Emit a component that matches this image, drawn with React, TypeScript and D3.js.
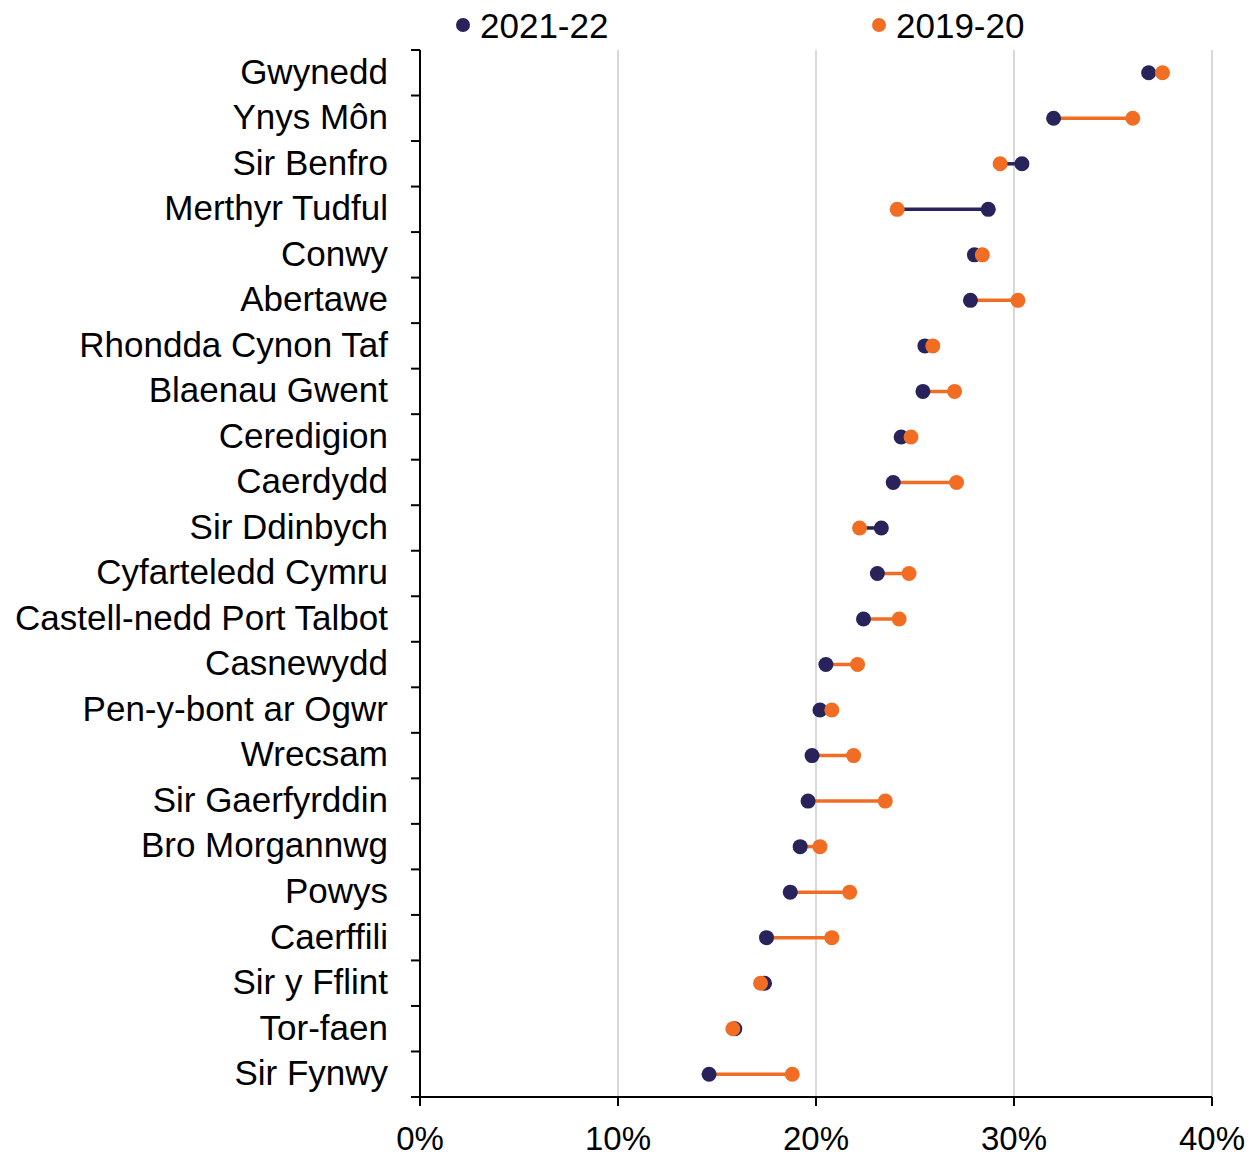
import React, { useEffect } from 'react';
import * as d3 from 'd3';

const categories = [
  'Gwynedd', 'Ynys Môn', 'Sir Benfro', 'Merthyr Tudful', 'Conwy', 'Abertawe',
  'Rhondda Cynon Taf', 'Blaenau Gwent', 'Ceredigion', 'Caerdydd', 'Sir Ddinbych',
  'Cyfarteledd Cymru', 'Castell-nedd Port Talbot', 'Casnewydd', 'Pen-y-bont ar Ogwr',
  'Wrecsam', 'Sir Gaerfyrddin', 'Bro Morgannwg', 'Powys', 'Caerffili',
  'Sir y Fflint', 'Tor-faen', 'Sir Fynwy',
];

// percentages
const values2122 = [
  36.8, 32.0, 30.4, 28.7, 28.0, 27.8, 25.5, 25.4, 24.3, 23.9, 23.3, 23.1,
  22.4, 20.5, 20.2, 19.8, 19.6, 19.2, 18.7, 17.5, 17.4, 15.9, 14.6,
];
const values1920 = [
  37.5, 36.0, 29.3, 24.1, 28.4, 30.2, 25.9, 27.0, 24.8, 27.1, 22.2, 24.7,
  24.2, 22.1, 20.8, 21.9, 23.5, 20.2, 21.7, 20.8, 17.2, 15.8, 18.8,
];
const xTicks = [0, 10, 20, 30, 40];

const NAVY = '#29235c';
const ORANGE = '#f26d24';
const FONT = 'Liberation Sans, Arial, sans-serif';

const W = 1258;
const H = 1156;

export default function App() {
  useEffect(() => {
    document.body.style.margin = '0';
  }, []);

  const x = d3.scaleLinear().domain([0, 40]).range([420, 1212]);
  const y = d3.scaleBand<string>().domain(categories).range([50, 1097]).padding(0);
  const bw = y.bandwidth();
  const [top, bottom] = y.range();

  const rows = categories.map((c, i) => ({ c, a: values2122[i], b: values1920[i] }));

  return (
    <svg width={W} height={H} style={{ display: 'block', fontFamily: FONT }}>
      {/* gridlines */}
      {xTicks.slice(1).map((t) => (
        <line key={t} x1={x(t)} x2={x(t)} y1={top} y2={bottom} stroke="#d9d9d9" strokeWidth={2} />
      ))}

      {/* y axis */}
      <line x1={x(0)} x2={x(0)} y1={top} y2={bottom} stroke="#000" strokeWidth={2} />
      {d3.range(categories.length + 1).map((i) => (
        <line key={i} x1={x(0) - 9} x2={x(0)} y1={top + i * bw} y2={top + i * bw} stroke="#000" strokeWidth={2} />
      ))}
      {categories.map((c) => (
        <text key={c} x={388} y={(y(c) as number) + bw / 2} dy="0.31em" textAnchor="end" fontSize={35} fill="#000">
          {c}
        </text>
      ))}

      {/* x axis */}
      <line x1={x(0)} x2={x(40)} y1={bottom} y2={bottom} stroke="#000" strokeWidth={2} />
      {xTicks.map((t) => (
        <g key={t}>
          <line x1={x(t)} x2={x(t)} y1={bottom} y2={bottom + 9} stroke="#000" strokeWidth={2} />
          <text x={x(t)} y={bottom + 53} textAnchor="middle" fontSize={33} fill="#000">{t}%</text>
        </g>
      ))}

      {/* connectors */}
      {rows.map((r) => {
        const cy = (y(r.c) as number) + bw / 2;
        return (
          <line key={r.c} x1={x(r.a)} x2={x(r.b)} y1={cy} y2={cy}
            stroke={r.b >= r.a ? ORANGE : NAVY} strokeWidth={3.5} />
        );
      })}
      {rows.map((r) => (
        <circle key={r.c} cx={x(r.a)} cy={(y(r.c) as number) + bw / 2} r={7.5} fill={NAVY} />
      ))}
      {rows.map((r) => (
        <circle key={r.c} cx={x(r.b)} cy={(y(r.c) as number) + bw / 2} r={7.5} fill={ORANGE} />
      ))}

      {/* legend */}
      <circle cx={463} cy={25} r={7} fill={NAVY} />
      <text x={480} y={38} fontSize={35} fill="#000">2021-22</text>
      <circle cx={879} cy={25} r={7} fill={ORANGE} />
      <text x={896} y={38} fontSize={35} fill="#000">2019-20</text>
    </svg>
  );
}
